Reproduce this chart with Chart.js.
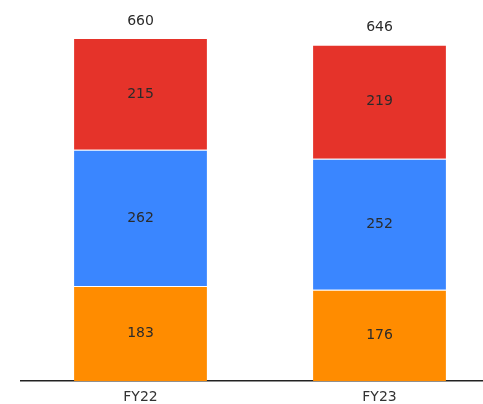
<!DOCTYPE html>
<html>
<head>
<meta charset="utf-8">
<script src="https://cdn.jsdelivr.net/npm/chart.js@4"></script>
<style>
  html, body { margin: 0; padding: 0; background: #fff; overflow: hidden; }
  #wrap { position: relative; width: 499px; height: 414px; }
</style>
</head>
<body>
<div id="wrap"><canvas id="chart"></canvas></div>
<script>
  // Data
  const years = ['FY22', 'FY23'];
  const bottomValues = [183, 176];
  const middleValues = [262, 252];
  const topValues = [215, 219];
  const totals = [660, 646];

  const FONT = '"DejaVu Sans", sans-serif';

  // Draws the value inside each segment and the total above each bar
  const labelPlugin = {
    id: 'segmentLabels',
    afterDatasetsDraw(chart) {
      const ctx = chart.ctx;
      ctx.save();
      ctx.font = '14px ' + FONT;
      ctx.fillStyle = '#2b2b2b';
      ctx.textAlign = 'center';
      ctx.textBaseline = 'middle';
      chart.data.datasets.forEach((ds, i) => {
        chart.getDatasetMeta(i).data.forEach((bar, j) => {
          const mid = (bar.y + bar.base) / 2;
          ctx.fillText(ds.data[j], bar.x, mid);
        });
      });
      const topMeta = chart.getDatasetMeta(chart.data.datasets.length - 1);
      topMeta.data.forEach((bar, j) => {
        ctx.fillText(totals[j], bar.x, bar.y - 17);
      });
      ctx.restore();
    }
  };

  new Chart(document.getElementById('chart'), {
    type: 'bar',
    data: {
      labels: years,
      datasets: [
        { label: 'Bottom', data: bottomValues, backgroundColor: '#FF8C00' },
        { label: 'Middle', data: middleValues, backgroundColor: '#3A86FF' },
        { label: 'Top', data: topValues, backgroundColor: '#E5332A' }
      ]
    },
    options: {
      responsive: true,
      maintainAspectRatio: false,
      animation: false,
      layout: { padding: { left: 21, right: 0, top: 38, bottom: 0 } },
      datasets: {
        bar: {
          barPercentage: 0.556,
          categoryPercentage: 1,
          borderWidth: { top: 1, bottom: 0, left: 0, right: 0 },
          borderColor: 'rgba(255,255,255,0.45)'
        }
      },
      plugins: {
        legend: { display: false },
        tooltip: { enabled: false }
      },
      scales: {
        x: {
          stacked: true,
          grid: { display: false, drawTicks: false },
          border: { display: true, color: '#222', width: 1.5 },
          ticks: { color: '#333', font: { family: FONT, size: 14 }, padding: 8 }
        },
        y: {
          stacked: true,
          display: false,
          min: 0,
          max: 660
        }
      }
    },
    plugins: [labelPlugin]
  });
</script>
</body>
</html>
